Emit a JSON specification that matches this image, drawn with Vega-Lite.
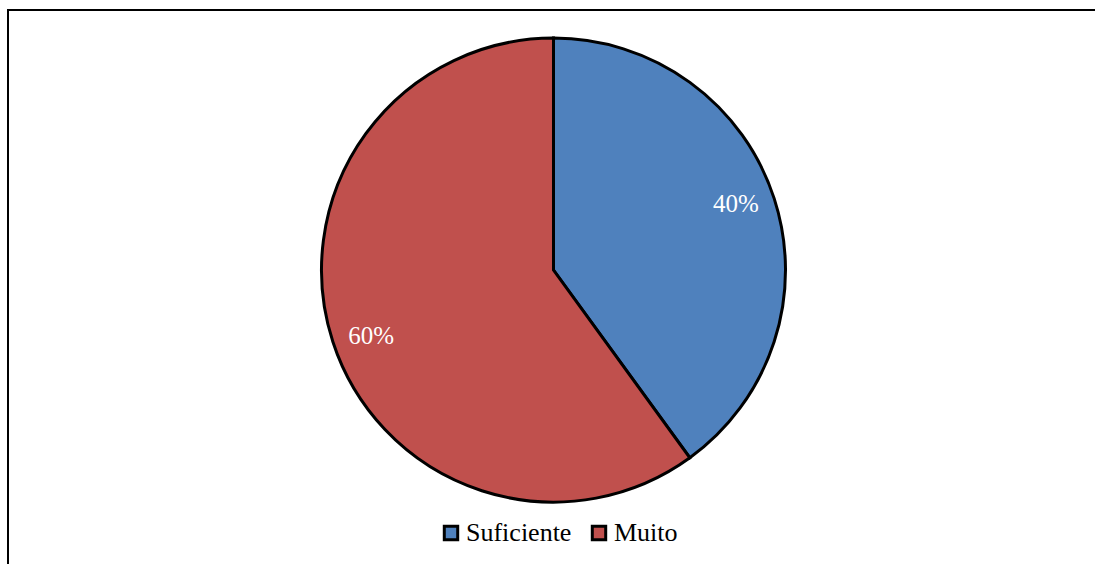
{
  "$schema": "https://vega.github.io/schema/vega-lite/v6.json",
  "width": 1087,
  "height": 554,
  "autosize": {"type": "none"},
  "padding": {"left": 8, "top": 10, "right": 0, "bottom": 0},
  "background": "white",
  "view": {"stroke": null},
  "data": {
    "values": [
      {"categoria": "Suficiente", "valor": 0.4},
      {"categoria": "Muito", "valor": 0.6}
    ]
  },
  "encoding": {
    "x": {"datum": 0, "type": "quantitative", "scale": {"domain": [-1, 0.99267], "nice": false, "zero": false}, "axis": null},
    "y": {"datum": 0, "type": "quantitative", "scale": {"domain": [-1.13, 1], "nice": false, "zero": false}, "axis": null}
  },
  "layer": [
    {
      "mark": {"type": "rule", "stroke": "#000", "strokeWidth": 2, "strokeCap": "square"},
      "encoding": {"x": {"datum": -1, "type": "quantitative"}, "y": null}
    },
    {
      "mark": {"type": "rule", "stroke": "#000", "strokeWidth": 2, "strokeCap": "square"},
      "encoding": {"y": {"datum": 1, "type": "quantitative"}, "x": null}
    },
    {
      "mark": {"type": "arc", "radius": 232, "stroke": "#000", "strokeWidth": 3},
      "encoding": {
        "theta": {"field": "valor", "type": "quantitative", "stack": true},
        "order": {"field": "categoria", "sort": "descending"},
        "color": {
          "field": "categoria",
          "type": "nominal",
          "scale": {"domain": ["Suficiente", "Muito"], "range": ["#4F81BD", "#C0504D"]},
          "legend": {
            "orient": "none",
            "legendX": 430,
            "legendY": 510,
            "direction": "horizontal",
            "title": null,
            "symbolType": "square",
            "symbolSize": 180,
            "symbolStrokeColor": "#000",
            "symbolStrokeWidth": 3,
            "labelFont": "Times New Roman, Liberation Serif, serif",
            "labelFontSize": 26,
            "labelColor": "#000",
            "labelOffset": 2,
            "columnPadding": 14,
            "padding": 0
          }
        }
      }
    },
    {
      "mark": {"type": "text", "radius": 194, "thetaOffset": -0.035, "font": "Times New Roman, Liberation Serif, serif", "fontSize": 25, "fill": "white"},
      "encoding": {
        "theta": {"field": "valor", "type": "quantitative", "stack": true},
        "order": {"field": "categoria", "sort": "descending"},
        "text": {"field": "valor", "type": "quantitative", "format": ".0%"}
      }
    }
  ]
}
